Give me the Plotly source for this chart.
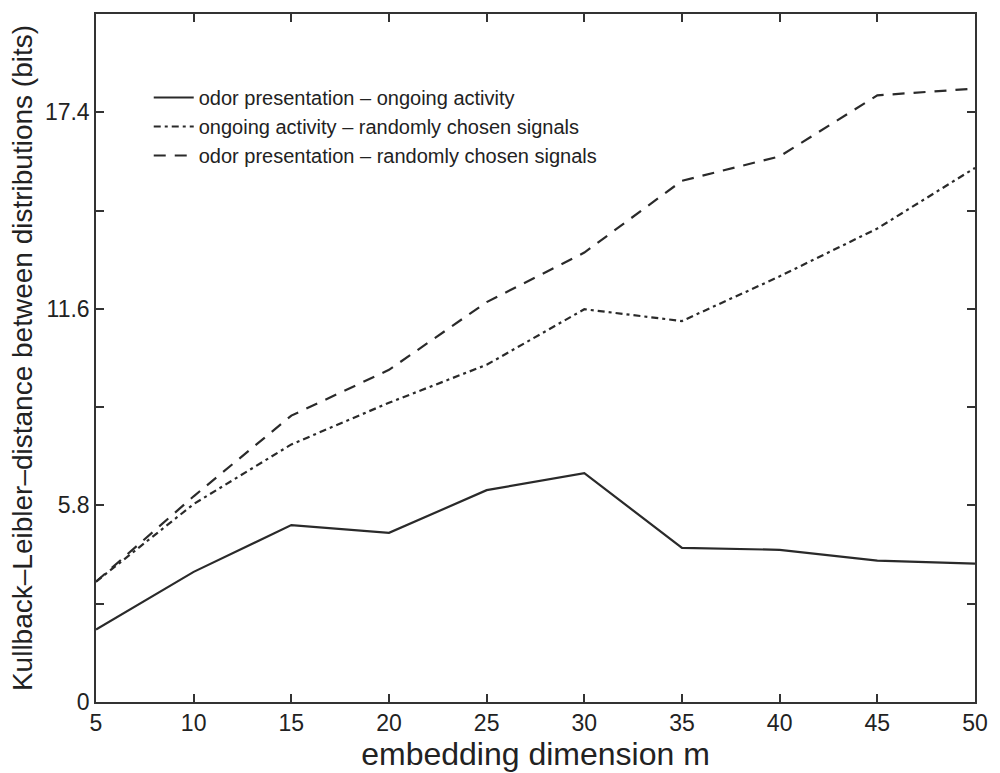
import plotly.graph_objects as go

m = [5, 10, 15, 20, 25, 30, 35, 40, 45, 50]
odor_ongoing = [2.14, 3.84, 5.22, 4.99, 6.25, 6.75, 4.55, 4.49, 4.17, 4.08]
ongoing_random = [3.55, 5.84, 7.6, 8.83, 9.95, 11.59, 11.24, 12.56, 13.97, 15.76]
odor_random = [3.55, 6.07, 8.45, 9.8, 11.8, 13.26, 15.38, 16.1, 17.9, 18.1]

names = ["odor presentation – ongoing activity",
         "ongoing activity – randomly chosen signals",
         "odor presentation – randomly chosen signals"]

y_tickvals = [0, 2.9, 5.8, 8.7, 11.6, 14.5, 17.4, 20.3]
y_ticktext = ["0", "", "5.8", "", "11.6", "", "17.4", ""]
x_tickvals = [5, 10, 15, 20, 25, 30, 35, 40, 45, 50]

FONT = "Liberation Sans, Arial"
col = "#2a2a2a"
fig = go.Figure()
fig.add_trace(go.Scatter(x=m, y=odor_ongoing, mode="lines", name=names[0],
                         line=dict(color=col, width=2.2)))
fig.add_trace(go.Scatter(x=m, y=ongoing_random, mode="lines", name=names[1],
                         line=dict(color=col, width=2.2, dash="7px,4px,3px,4px")))
fig.add_trace(go.Scatter(x=m, y=odor_random, mode="lines", name=names[2],
                         line=dict(color=col, width=2.2, dash="12px,9px")))

axis_common = dict(showline=True, linecolor="#333", linewidth=1.5, mirror="ticks",
                   ticks="inside", ticklen=8, tickcolor="#333", tickwidth=1.5,
                   showgrid=False, zeroline=False,
                   tickfont=dict(family=FONT, size=23, color="#222"))

fig.update_layout(
    width=1000, height=773,
    paper_bgcolor="white", plot_bgcolor="white",
    margin=dict(l=96, r=15, t=12, b=68),
    showlegend=True,
    legend=dict(x=0.06, y=0.907, xanchor="left", yanchor="top",
                bgcolor="rgba(0,0,0,0)", borderwidth=0,
                font=dict(family=FONT, size=20, color="#222"),
                tracegroupgap=0, itemwidth=40),
    xaxis=dict(range=[5, 50], tickvals=x_tickvals,
               title=dict(text="embedding dimension m", standoff=2,
                          font=dict(family=FONT, size=32, color="#222")),
               **axis_common),
    yaxis=dict(range=[0, 20.3], tickvals=y_tickvals, ticktext=y_ticktext,
               title=dict(text="Kullback–Leibler–distance between distributions (bits)", standoff=4,
                          font=dict(family=FONT, size=28, color="#222")),
               **axis_common),
)

fig.write_html("out.html")
